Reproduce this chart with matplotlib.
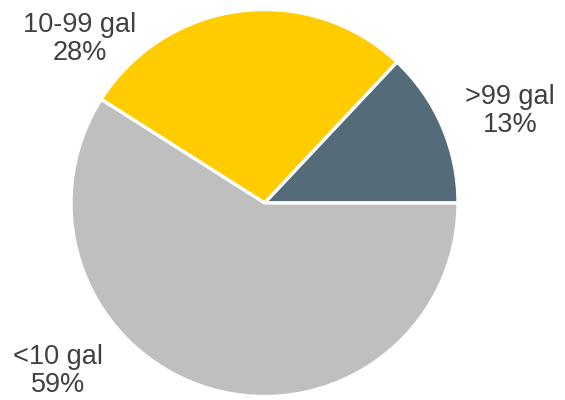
import matplotlib
matplotlib.use("Agg")
import matplotlib.pyplot as plt

# Share of containers by size class
categories = [">99 gal", "10-99 gal", "<10 gal"]
shares = [13, 28, 59]
colors = ["#546B79", "#FFCC00", "#BFBFBF"]

plt.rcParams["font.family"] = ["Liberation Sans", "DejaVu Sans"]

fig = plt.figure(figsize=(5.65, 4.0), dpi=100)
ax = fig.add_axes([0, 0, 1, 1])

ax.pie(shares, colors=colors, startangle=0, counterclock=True,
       center=(264.5, 197), radius=193.5, frame=False,
       wedgeprops=dict(edgecolor="white", linewidth=2.4))

ax.set_xlim(0, 565)
ax.set_ylim(0, 400)
ax.set_aspect("equal")
ax.axis("off")

# Label placement for each slice
label_pos = [(510, 289), (80, 361), (58, 29)]
for name, val, (x, y) in zip(categories, shares, label_pos):
    ax.text(x, y, f"{name}\n{val}%", ha="center", va="center",
            fontsize=19.5, color="#404040", linespacing=1.15)

fig.savefig("out.png", dpi=100)
